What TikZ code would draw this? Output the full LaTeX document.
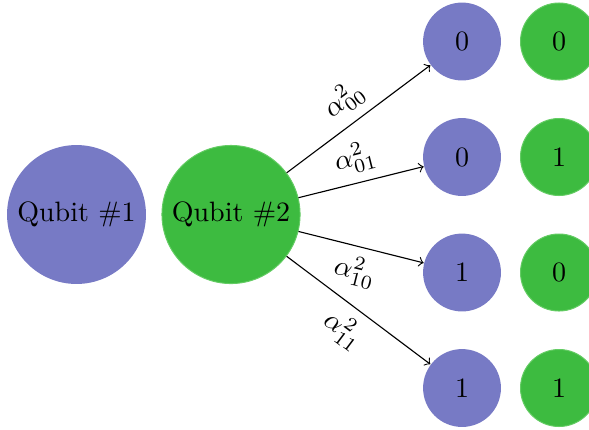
\documentclass[tikz,border=0pt]{standalone}
\begin{document}
\begin{tikzpicture}[x=0.357pt,y=-0.357pt,
  bq/.style={circle,fill=qblue,inner sep=0pt,minimum size=49.6pt},
  gq/.style={circle,fill=qgreen,draw=qgreenedge,line width=0.35pt,inner sep=0pt,minimum size=49.3pt},
  bs/.style={circle,fill=qblue,inner sep=0pt,minimum size=27.8pt},
  gs/.style={circle,fill=qgreen,draw=qgreenedge,line width=0.35pt,inner sep=0pt,minimum size=27.5pt},
  arr/.style={->,line width=0.4pt},
  lab/.style={sloped,midway}]
\definecolor{qblue}{RGB}{119,122,197}
\definecolor{qgreen}{RGB}{61,187,64}
\definecolor{qgreenedge}{RGB}{100,204,100}
\useasboundingbox (0,0) rectangle (589,429);
\clip (0,0) rectangle (589,429);
\node[bq] (q1) at (76.5,214.5) {Qubit \#1};
\node[gq] (q2) at (231,214.5) {Qubit \#2};
\node[bs] (b00) at (462,41.5) {0};
\node[bs] (b01) at (462,157) {0};
\node[bs] (b10) at (462,272.5) {1};
\node[bs] (b11) at (462,388) {1};
\node[gs] (g00) at (559,41.5) {0};
\node[gs] (g01) at (559,157) {1};
\node[gs] (g10) at (559,272.5) {0};
\node[gs] (g11) at (559,388) {1};
\draw[arr] (q2) -- node[lab,above] {$\alpha_{00}^2$} (b00);
\draw[arr] (q2) -- node[lab,above] {$\alpha_{01}^2$} (b01);
\draw[arr] (q2) -- node[lab,below] {$\alpha_{10}^2$} (b10);
\draw[arr] (q2) -- node[lab,below] {$\alpha_{11}^2$} (b11);
\end{tikzpicture}
\end{document}
